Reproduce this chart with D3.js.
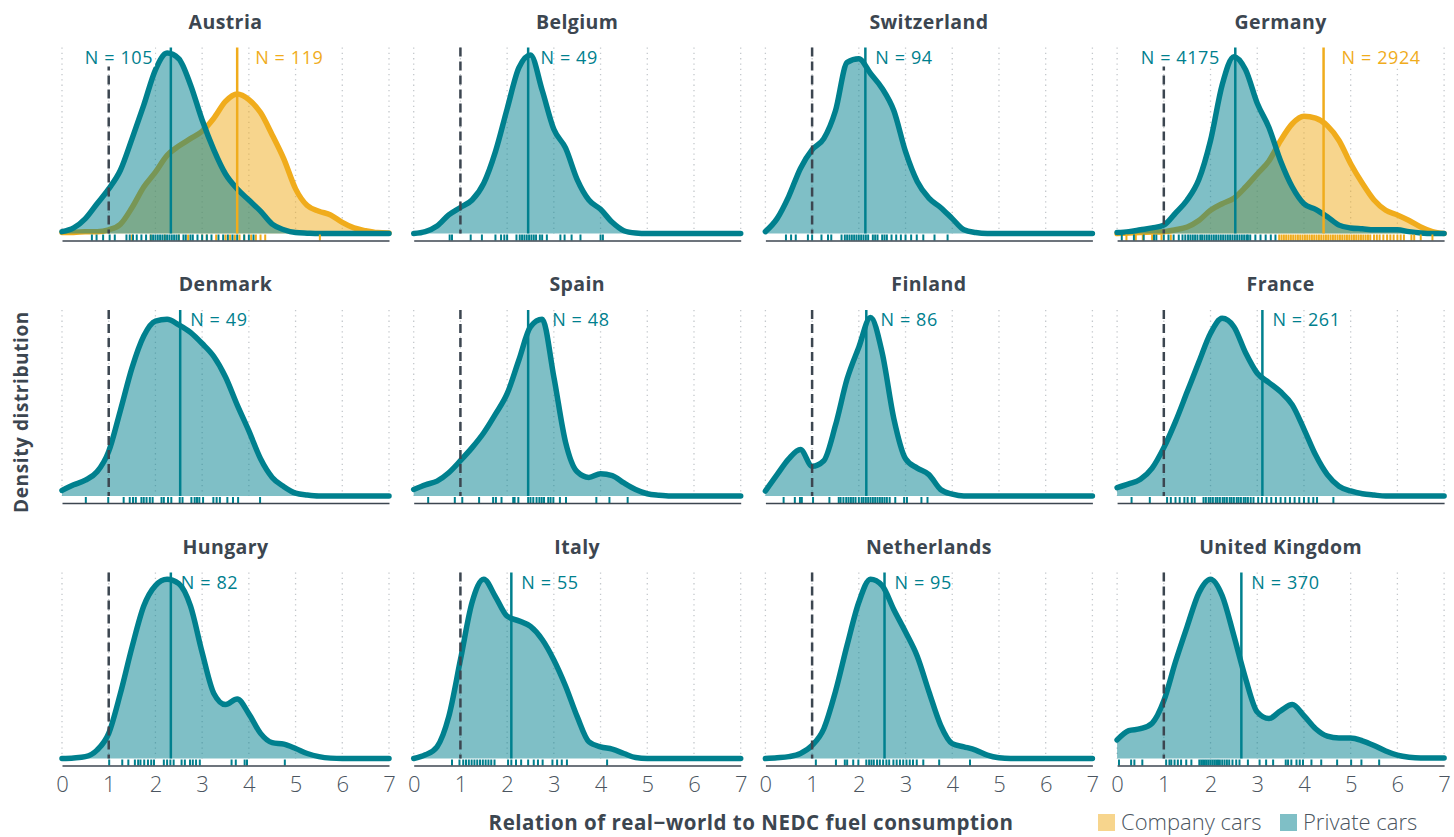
<!DOCTYPE html>
<html>
<head>
<meta charset="utf-8">
<script src="https://cdn.jsdelivr.net/npm/d3@7"></script>
<style>
  html, body { margin: 0; padding: 0; background: #ffffff; }
  svg { display: block; }
</style>
</head>
<body>
<svg id="chart" width="1454" height="837"></svg>
<script>
// ---------------- DATA ----------------
const countries = ["Austria","Belgium","Switzerland","Germany","Denmark","Spain","Finland","France","Hungary","Italy","Netherlands","United Kingdom"];
const privateN = [105,49,94,4175,49,48,86,261,82,55,95,370];
const companyN = [119,null,null,2924,null,null,null,null,null,null,null,null];
const privateMean = [2.33,2.45,2.14,2.53,2.53,2.45,2.16,3.11,2.33,2.09,2.55,2.66];
const companyMean = [3.75,null,null,4.42,null,null,null,null,null,null,null,null];
const xTicks = [0,1,2,3,4,5,6,7];
const referenceValue = 1;

// density evaluation grid (relation values)
const xGrid = [0,0.25,0.5,0.75,1,1.25,1.5,1.75,2,2.25,2.5,2.75,3,3.25,3.5,3.75,4,4.25,4.5,4.75,5,5.25,5.5,5.75,6,6.25,6.5,6.75,7];

// relative density (100 = panel maximum) read at xGrid
const densAustriaPrivate = [1,3,8,16,24,34,51,69,88,97,94,80,61,45,32,24,18,12,5,2,0.5,0.2,0,0,0,0,0,0,0];
const densAustriaCompany = [0.5,0.5,1,1,2,5,14,25,33,42,47,51,55,62,71,75,72,65,53,40,24,15,12,10,6,3,1.5,0.5,0.3];
const densBelgium = [0,1,4,10,14,18,27,44,67,89,96,77,56,46,29,18,13,6,1.5,0.3,0,0,0,0,0,0,0,0,0];
const densSwitzerland = [1,8,20,35,45,51,66,92,94,86,78,66,44,28,19,14,8,2,0.5,0,0,0,0,0,0,0,0,0,0];
const densGermanyPrivate = [0.5,1,2,3,4.5,11,18,29,50,80,95,88,70,57,39,25,16,13,9,4.5,3,2.5,2,2,2,1,0.3,0,0];
const densGermanyCompany = [0,0.3,0.5,0.8,1,2,3.5,7,12.5,16,19,25,32,39,50,59,63,62,58,50,37.5,27,18,12.5,10,7,3.5,1,0];
const densDenmark = [3,6,8.5,13,24,46,69,86,94,95,92,88,82,75,64,49,35,20,10,5,1.5,0.5,0,0,0,0,0,0,0];
const densSpain = [3.5,6,8,12.5,19,26,34,44,55,73,91,95,64,29,13,10,12,11,7,3.5,1.2,0.4,0,0,0,0,0,0,0];
const densFinland = [2.7,11.5,20,25,16,19,38,63,80,96,77,41.5,20,15,11.5,3.5,1,0,0,0,0,0,0,0,0,0,0,0,0];
const densFrance = [4.5,6.5,9,15,26,40,56,72,87.5,95.5,91,77,66,61,56,49,36,22,11.5,5.3,2.7,1.2,0.5,0,0,0,0,0,0];
const densHungary = [0,0.3,1,4.5,13.5,35,60,82,93,96.4,94,82,57,35,29,32,24,13.5,8.5,7.7,5.4,2.7,1,0.2,0,0,0,0,0];
const densItaly = [0,2,6.3,22.5,53,84,96.4,87,76.5,74,71,64,53,39,22.5,9,6.3,5,2.7,0.5,0,0,0,0,0,0,0,0,0];
const densNetherlands = [0,0.4,1,2.7,7,16,36,61,84,96.4,93,80,68,55,36,18,8,6.3,4.5,1.8,0.4,0,0,0,0,0,0,0,0];
const densUK = [10,15,16,19,31,52,71,89,96.4,87.5,66,43,25,21.5,25.6,29,23,16,12,11,11,9.5,7,4,1.8,0.7,0.3,0.3,0.3];

// rug (individual observations, approximate)
const rugAustriaPrivate = [0.64,0.74,0.88,1.02,1.13,1.38,1.45,1.52,1.6,1.7,1.8,1.9,1.95,2.0,2.05,2.1,2.15,2.2,2.25,2.3,2.35,2.4,2.45,2.5,2.6,2.65,2.75,2.8,2.9,3.0,3.1,3.2,3.35,3.45,3.55,3.65,3.75,3.9,4.0,4.1];
const rugAustriaCompany = [1.5,1.9,2.2,2.5,2.7,3.0,3.1,3.3,3.5,3.6,3.7,3.8,3.9,4.05,4.15,4.25,4.35,5.52];
const rugBelgium = [0.77,0.82,1.22,1.46,1.75,1.87,1.94,2.0,2.2,2.27,2.32,2.37,2.42,2.47,2.52,2.57,2.62,2.7,2.75,2.85,3.14,3.23,3.38,3.57,4.0,4.05];
const rugSwitzerland = [0.44,0.55,0.65,0.91,1.0,1.2,1.34,1.41,1.63,1.7,1.75,1.8,1.85,1.9,1.95,2.0,2.05,2.1,2.15,2.2,2.3,2.35,2.4,2.5,2.55,2.6,2.7,2.8,2.9,3.0,3.12,3.24,3.38,3.62,3.9];
const rugGermanyPrivate = [0.1,0.36,0.57,0.79,0.84,1.0,1.1,1.21,1.32,1.4,1.46,1.52,1.57,1.62,1.67,1.72,1.78,1.82,1.87,1.92,1.97,2.02,2.07,2.12,2.17,2.22,2.27,2.32,2.37,2.42,2.47,2.52,2.57,2.62,2.67,2.72,2.77,2.8,2.85,2.96,3.07,3.18,3.29,3.39];
const rugGermanyCompany = [0.2,0.4,0.55,0.75,0.95,1.15,3.47,3.52,3.57,3.62,3.67,3.72,3.77,3.82,3.87,3.92,3.97,4.02,4.07,4.12,4.17,4.22,4.27,4.32,4.37,4.42,4.47,4.52,4.57,4.62,4.67,4.72,4.77,4.82,4.87,4.92,4.97,5.02,5.07,5.12,5.17,5.22,5.27,5.32,5.37,5.42,5.5,5.56,5.62,5.7,5.78,5.85,5.92,6.0,6.07,6.14,6.3,6.36,6.5,6.75];
const rugDenmark = [0.51,0.99,1.32,1.45,1.52,1.58,1.7,1.75,1.81,1.88,1.94,2.13,2.18,2.27,2.34,2.52,2.58,2.77,2.84,2.89,2.94,3.02,3.24,3.31,3.38,3.54,3.66,3.77,4.24];
const rugSpain = [0.31,0.88,1.04,1.4,1.7,1.76,1.88,2.13,2.16,2.24,2.45,2.5,2.56,2.63,2.69,2.74,2.79,2.88,2.93,2.99,3.13,3.26,3.91,4.19,4.58];
const rugFinland = [0.39,0.63,0.74,0.78,1.02,1.37,1.57,1.61,1.67,1.73,1.78,1.83,1.88,1.93,2.0,2.06,2.1,2.15,2.2,2.25,2.3,2.35,2.4,2.45,2.5,2.55,2.6,2.66,2.78,2.97,3.03,3.34,3.47];
const rugFrance = [0.31,0.7,1.07,1.15,1.25,1.34,1.44,1.51,1.6,1.66,1.85,1.9,1.96,2.0,2.05,2.11,2.15,2.2,2.26,2.3,2.35,2.41,2.45,2.5,2.56,2.6,2.65,2.71,2.75,2.8,2.86,2.92,3.02,3.1,3.2,3.3,3.4,3.5,3.6,3.7,3.8,3.9,4.0,4.1,4.2,4.28,4.63];
const rugHungary = [1.01,1.29,1.42,1.56,1.63,1.68,1.76,1.84,1.91,1.97,2.18,2.25,2.32,2.39,2.56,2.63,2.74,2.8,2.87,2.95,3.63,3.72,3.91,3.96,4.77];
const rugItaly = [0.82,0.98,1.06,1.12,1.18,1.24,1.3,1.36,1.42,1.48,1.54,1.6,1.66,1.73,2.02,2.09,2.19,2.3,2.45,2.57,2.66,2.76,2.97,3.07,3.17,3.28,4.14];
const rugNetherlands = [1.08,1.51,1.7,1.75,1.88,1.99,2.16,2.22,2.27,2.32,2.39,2.45,2.52,2.59,2.65,2.74,2.81,2.88,2.95,3.02,3.09,3.16,3.24,3.38,3.72,4.38];
const rugUK = [0.04,0.3,0.37,0.54,1.05,1.12,1.16,1.23,1.3,1.37,1.48,1.59,1.76,1.8,1.84,1.88,1.92,1.96,2.0,2.04,2.08,2.12,2.16,2.2,2.25,2.3,2.35,2.4,2.47,2.55,2.62,2.8,3.05,3.19,3.34,3.61,3.66,3.73,3.84,3.91,3.98,4.16,4.37,4.71,5.01,5.23,5.61];

const privateDensity = [densAustriaPrivate,densBelgium,densSwitzerland,densGermanyPrivate,densDenmark,densSpain,densFinland,densFrance,densHungary,densItaly,densNetherlands,densUK];
const companyDensity = [densAustriaCompany,null,null,densGermanyCompany,null,null,null,null,null,null,null,null];
const privateRug = [rugAustriaPrivate,rugBelgium,rugSwitzerland,rugGermanyPrivate,rugDenmark,rugSpain,rugFinland,rugFrance,rugHungary,rugItaly,rugNetherlands,rugUK];
const companyRug = [rugAustriaCompany,null,null,rugGermanyCompany,null,null,null,null,null,null,null,null];

const legendLabels = ["Company cars","Private cars"];

// ---------------- STYLE ----------------
const TEAL = "#00808e";
const ORANGE = "#f0ac1c";
const DARK = "#3c4650";
const FONT = "'Open Sans', 'Noto Sans', sans-serif";

const svg = d3.select("#chart");

const colLeft0 = 62, colStep = 351.7, panelW = 327;
const rowTop0 = 47.5, rowStep = 262.5, panelH = 186;

// put a white box behind a label so lines beneath are hidden
function boxed(g, textSel) {
  const b = textSel.node().getBBox();
  g.insert("rect", () => textSel.node())
    .attr("x", b.x - 2).attr("y", b.y + 2).attr("width", b.width + 4).attr("height", b.height - 4)
    .attr("fill", "#ffffff");
}

countries.forEach((name, i) => {
  const col = i % 4, row = Math.floor(i / 4);
  const left = colLeft0 + col * colStep;
  const top = rowTop0 + row * rowStep;
  const base = top + panelH;
  const x = d3.scaleLinear().domain([0, 7]).range([left, left + panelW]);
  const y = d3.scaleLinear().domain([0, 100]).range([base, top]);
  const g = svg.append("g");

  // title
  g.append("text")
    .attr("x", x(3.5)).attr("y", top - 19)
    .attr("text-anchor", "middle")
    .style("font-family", FONT).style("font-weight", 700).style("font-size", "19.5px")
    .style("letter-spacing", "0.4px")
    .attr("fill", DARK).text(name);

  // dotted grid
  g.selectAll(".grid").data(xTicks).enter().append("line")
    .attr("x1", d => x(d)).attr("x2", d => x(d))
    .attr("y1", top).attr("y2", base)
    .attr("stroke", "#c4c8cc").attr("stroke-width", 1.3)
    .attr("stroke-dasharray", "1.3,4");

  const area = d3.area().x((d, k) => x(xGrid[k])).y0(y(0)).y1(d => y(d)).curve(d3.curveMonotoneX);
  const line = d3.line().x((d, k) => x(xGrid[k])).y(d => y(d)).curve(d3.curveMonotoneX);

  // company
  if (companyDensity[i]) {
    g.append("path").datum(companyDensity[i]).attr("d", area)
      .attr("fill", ORANGE).attr("fill-opacity", 0.5);
    g.append("path").datum(companyDensity[i]).attr("d", line)
      .attr("fill", "none").attr("stroke", ORANGE).attr("stroke-width", 5.5)
      .attr("stroke-linecap", "round").attr("stroke-linejoin", "round");
  }
  // private
  g.append("path").datum(privateDensity[i]).attr("d", area)
    .attr("fill", TEAL).attr("fill-opacity", 0.5);
  g.append("path").datum(privateDensity[i]).attr("d", line)
    .attr("fill", "none").attr("stroke", TEAL).attr("stroke-width", 5.5)
    .attr("stroke-linecap", "round").attr("stroke-linejoin", "round");

  // rugs
  if (companyRug[i]) {
    g.selectAll(".rugc").data(companyRug[i]).enter().append("line")
      .attr("x1", d => x(d)).attr("x2", d => x(d))
      .attr("y1", base + 1).attr("y2", base + 7)
      .attr("stroke", ORANGE).attr("stroke-width", 2);
  }
  g.selectAll(".rugp").data(privateRug[i]).enter().append("line")
    .attr("x1", d => x(d)).attr("x2", d => x(d))
    .attr("y1", base + 1).attr("y2", base + 7)
    .attr("stroke", TEAL).attr("stroke-width", 2);

  // axis line (+ tick labels on bottom row)
  const axis = d3.axisBottom(x).tickSize(0).tickPadding(11);
  if (row === 2) axis.tickValues(xTicks).tickFormat(d3.format("d"));
  else axis.tickValues([]);
  const ag = g.append("g").attr("transform", `translate(0,${base + 7})`).call(axis);
  ag.select(".domain").attr("stroke", DARK).attr("stroke-width", 1.5);
  ag.selectAll("text")
    .style("font-family", FONT).style("font-weight", 300).style("font-size", "22px")
    .attr("fill", "#4b5560");

  // reference dashed line
  g.append("line")
    .attr("x1", x(referenceValue)).attr("x2", x(referenceValue))
    .attr("y1", top).attr("y2", base)
    .attr("stroke", DARK).attr("stroke-width", 2.5)
    .attr("stroke-dasharray", "9,5");

  // mean lines + labels
  const peakX = arr => xGrid[d3.maxIndex(arr)];
  const labelStyle = sel => sel.style("font-family", FONT).style("font-weight", 500)
    .style("font-size", "18px").style("letter-spacing", "0.6px");
  if (companyMean[i] != null) {
    const mx = x(companyMean[i]);
    g.append("line").attr("x1", mx).attr("x2", mx).attr("y1", top).attr("y2", base)
      .attr("stroke", ORANGE).attr("stroke-width", 2.5);
    const t = g.append("text").attr("x", Math.max(mx, x(peakX(companyDensity[i]))) + 18).attr("y", top + 16)
      .call(labelStyle).attr("fill", ORANGE).text("N = " + companyN[i]);
    boxed(g, t);
  }
  const pm = x(privateMean[i]);
  g.append("line").attr("x1", pm).attr("x2", pm).attr("y1", top).attr("y2", base)
    .attr("stroke", TEAL).attr("stroke-width", 2.5);
  const pPeak = x(peakX(privateDensity[i]));
  const leftSide = companyMean[i] != null;
  const t2 = g.append("text")
    .attr("x", leftSide ? Math.min(pm, pPeak) - 14 : Math.max(pm, pPeak) + 10)
    .attr("y", top + 16)
    .attr("text-anchor", leftSide ? "end" : "start")
    .call(labelStyle).attr("fill", TEAL).text("N = " + privateN[i]);
  if (leftSide) boxed(g, t2);
});

// axis titles
svg.append("text")
  .attr("x", 751).attr("y", 830).attr("text-anchor", "middle")
  .style("font-family", FONT).style("font-weight", 700).style("font-size", "20.5px")
  .style("letter-spacing", "0.5px")
  .attr("fill", DARK).text("Relation of real\u2212world to NEDC fuel consumption");

svg.append("text")
  .attr("transform", "translate(28,412) rotate(-90)")
  .attr("text-anchor", "middle")
  .style("font-family", FONT).style("font-weight", 700).style("font-size", "19px")
  .style("letter-spacing", "0.6px")
  .attr("fill", DARK).text("Density distribution");

// legend
const legendColors = [ORANGE, TEAL];
const legendX = [1098, 1280];
legendLabels.forEach((lab, k) => {
  svg.append("rect").attr("x", legendX[k]).attr("y", 814).attr("width", 17).attr("height", 17)
    .attr("fill", legendColors[k]).attr("fill-opacity", 0.5);
  svg.append("text").attr("x", legendX[k] + 23).attr("y", 830)
    .style("font-family", FONT).style("font-weight", 300).style("font-size", "22px")
    .attr("fill", "#4b5560").text(lab);
});
</script>
</body>
</html>
